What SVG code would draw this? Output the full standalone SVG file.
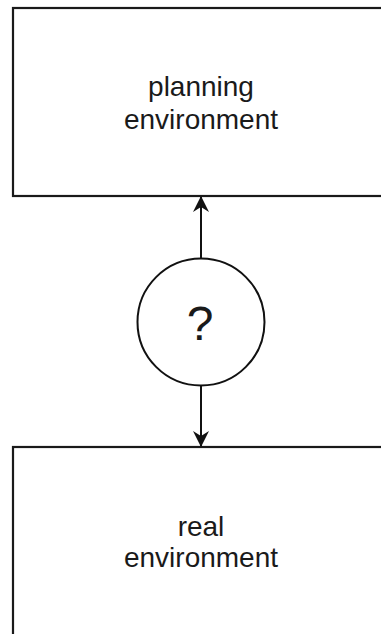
<svg xmlns="http://www.w3.org/2000/svg" width="381" height="634" viewBox="0 0 381 634">
  <defs>
    <style>
      .box { fill: #ffffff; stroke: #1a1a1a; stroke-width: 2.2; }
      .node-circle { fill: #ffffff; stroke: #111111; stroke-width: 2; }
      .label { font-family: "Liberation Sans", Arial, sans-serif; font-size: 28px; fill: #1a1a1a; text-anchor: middle; }
      .link { stroke: #111111; stroke-width: 2; fill: none; }
    </style>
    <marker id="arrow" viewBox="0 0 16 16" refX="15" refY="8" markerWidth="16" markerHeight="16" markerUnits="userSpaceOnUse" orient="auto">
      <path d="M0,0 L16,8 L0,16 L5,8 Z" fill="#111111"/>
    </marker>
  </defs>
  <rect width="381" height="634" fill="#ffffff"/>

  <g id="planning-environment">
    <rect class="box" x="13" y="8" width="380" height="188"/>
    <text class="label" x="201" y="96">planning</text>
    <text class="label" x="201" y="129">environment</text>
  </g>

  <g id="real-environment">
    <rect class="box" x="13" y="447" width="380" height="200"/>
    <text class="label" x="201" y="536">real</text>
    <text class="label" x="201" y="567">environment</text>
  </g>

  <g id="unknown">
    <circle class="node-circle" cx="201" cy="322" r="63.5"/>
    <text class="label" x="200" y="340" style="font-size:48px">?</text>
  </g>

  <g id="connectors">
    <line class="link" x1="201" y1="258" x2="201" y2="197" marker-end="url(#arrow)"/>
    <line class="link" x1="201" y1="386" x2="201" y2="446" marker-end="url(#arrow)"/>
  </g>
</svg>
